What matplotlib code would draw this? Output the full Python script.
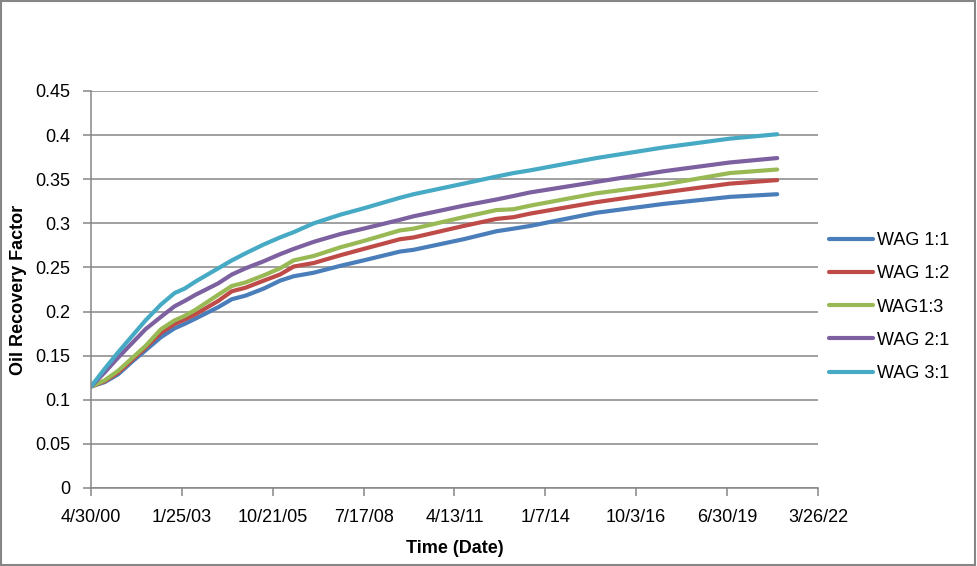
import pandas as pd
import matplotlib
matplotlib.use("Agg")
import matplotlib.pyplot as plt
from matplotlib.patches import Rectangle

plt.rcParams['font.family'] = ['Liberation Sans', 'DejaVu Sans']

# data
dates = pd.to_datetime([
    "2000-04-30", "2000-09-27", "2001-02-24", "2001-07-24", "2001-12-21",
    "2002-06-09", "2002-11-06", "2003-02-24", "2003-06-24", "2004-02-29",
    "2004-07-28", "2004-12-25", "2005-07-13", "2006-01-09", "2006-06-08",
    "2007-01-14", "2007-11-10", "2008-07-17", "2009-08-21", "2010-01-18",
    "2011-07-22", "2012-07-16", "2013-01-22", "2013-07-21", "2015-07-22",
    "2017-07-30", "2019-07-30", "2021-01-01",
])

wag_1_1 = [0.115, 0.120, 0.129, 0.143, 0.156, 0.171, 0.181, 0.186, 0.192, 0.205,
           0.214, 0.218, 0.226, 0.235, 0.240, 0.244, 0.252, 0.258, 0.268, 0.270,
           0.282, 0.291, 0.294, 0.297, 0.312, 0.322, 0.330, 0.333]
wag_1_2 = [0.115, 0.121, 0.131, 0.145, 0.159, 0.176, 0.186, 0.191, 0.197, 0.212,
           0.223, 0.227, 0.235, 0.242, 0.251, 0.255, 0.264, 0.271, 0.282, 0.284,
           0.297, 0.305, 0.307, 0.311, 0.324, 0.335, 0.345, 0.349]
wag_1_3 = [0.115, 0.122, 0.133, 0.147, 0.161, 0.180, 0.190, 0.195, 0.202, 0.219,
           0.229, 0.233, 0.241, 0.249, 0.258, 0.263, 0.273, 0.280, 0.292, 0.294,
           0.307, 0.315, 0.316, 0.320, 0.334, 0.344, 0.357, 0.361]
wag_2_1 = [0.115, 0.131, 0.148, 0.164, 0.180, 0.194, 0.206, 0.212, 0.219, 0.232,
           0.242, 0.249, 0.257, 0.265, 0.271, 0.279, 0.288, 0.294, 0.304, 0.308,
           0.320, 0.327, 0.331, 0.335, 0.347, 0.359, 0.369, 0.374]
wag_3_1 = [0.115, 0.135, 0.154, 0.172, 0.190, 0.208, 0.221, 0.226, 0.234, 0.249,
           0.258, 0.266, 0.276, 0.284, 0.290, 0.300, 0.310, 0.317, 0.329, 0.333,
           0.345, 0.353, 0.357, 0.360, 0.374, 0.386, 0.396, 0.401]

labels = ["WAG 1:1", "WAG 1:2", "WAG1:3", "WAG 2:1", "WAG 3:1"]
colors = ["#4A7EBB", "#BE4B48", "#98B954", "#7D60A0", "#46AAC5"]
series = [wag_1_1, wag_1_2, wag_1_3, wag_2_1, wag_3_1]

grid_col = "#868686"

fig = plt.figure(figsize=(9.77, 5.66), dpi=100)
ax = fig.add_axes([91 / 977, 1 - 488 / 566, (818 - 91) / 977, (488 - 91) / 566])

for vals, lab, c in zip(series, labels, colors):
    ax.plot(dates, vals, color=c, lw=3, label=lab, solid_capstyle='round')

x0 = pd.Timestamp("2000-04-30")
ticks = [x0 + pd.Timedelta(days=1000 * i) for i in range(9)]
ax.set_xlim(ticks[0], ticks[-1])
ax.set_xticks(ticks)
ax.set_xticklabels([f"{t.month}/{t.day}/{t.strftime('%y')}" for t in ticks])
ax.set_ylim(0, 0.45)
ax.set_yticks([i * 0.05 for i in range(10)])
ax.set_yticklabels(["0", "0.05", "0.1", "0.15", "0.2", "0.25", "0.3", "0.35", "0.4", "0.45"])

ax.grid(axis='y', color=grid_col, lw=1.1)
ax.set_axisbelow(True)
for s in ["top", "right"]:
    ax.spines[s].set_visible(False)
for s in ["left", "bottom"]:
    ax.spines[s].set_color(grid_col)
    ax.spines[s].set_linewidth(1.1)
ax.tick_params(axis='both', colors=grid_col, labelcolor='black', labelsize=13,
               length=6, width=1.1, direction='out')
ax.tick_params(axis='y', pad=9)
ax.tick_params(axis='x', pad=9)

ax.set_xlabel("Time (Date)", fontsize=13, fontweight='bold', labelpad=10)
ax.set_ylabel("Oil Recovery Factor", fontsize=13, fontweight='bold', labelpad=6)

fig.legend(loc='upper left', bbox_to_anchor=(829 / 977, 1 - 232 / 566), frameon=False,
           fontsize=13, handlelength=2.44, handletextpad=0.22, labelspacing=0.9,
           borderpad=0, borderaxespad=0)

fig.patches.append(Rectangle((0.001, 0.002), 0.997, 0.996, transform=fig.transFigure,
                             fill=False, edgecolor=grid_col, lw=1.5))

fig.savefig("out.png", dpi=100)
